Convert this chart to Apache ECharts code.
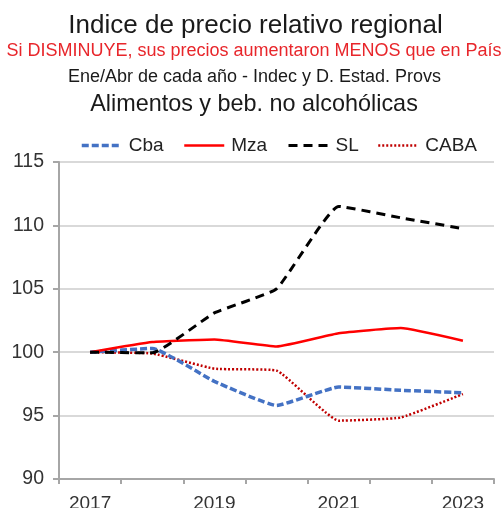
<!DOCTYPE html>
<html>
<head>
<meta charset="utf-8">
<script src="https://cdn.jsdelivr.net/npm/echarts@6/dist/echarts.min.js"></script>
<style>
html,body{margin:0;padding:0;background:#fff;}
#chart{width:503px;height:508px;}
</style>
</head>
<body>
<div id="chart"></div>
<script>
var years = ['2017','2018','2019','2020','2021','2022','2023'];
var cba  = [100, 100.3, 97.7, 95.8, 97.25, 97.0, 96.8];
var mza  = [100, 100.8, 101.0, 100.45, 101.5, 101.9, 100.9];
var sl   = [100, 99.95, 103.1, 105.0, 111.5, 110.6, 109.75];
var caba = [100, 99.9, 98.7, 98.55, 94.6, 94.85, 96.7];
var yTicks = [90, 95, 100, 105, 110, 115];

var FONT = 'Liberation Sans, Arial, sans-serif';
var chart = echarts.init(document.getElementById('chart'), null, {renderer:'canvas'});

function legendAt(name, left) {
  return {
    data: [name], left: left, top: 136, padding: 0,
    itemWidth: 40, itemHeight: 14, itemGap: 0,
    itemStyle: {opacity: 0},
    lineStyle: {width: 'inherit'},
    textStyle: {fontFamily: FONT, fontSize: 19, color: '#222', padding: [0,0,0,2]}
  };
}

chart.setOption({
  animation: false,
  backgroundColor: '#fff',
  graphic: [
    {type:'text', x:255.5, y:26, style:{text:'Indice de precio relativo regional', font:'26px ' + FONT, fill:'#1a1a1a', textAlign:'center', textVerticalAlign:'middle'}},
    {type:'text', x:254, y:51, style:{text:'Si DISMINUYE, sus precios aumentaron MENOS que en País', font:'18px ' + FONT, fill:'#e8262b', textAlign:'center', textVerticalAlign:'middle'}},
    {type:'text', x:254.5, y:77.5, style:{text:'Ene/Abr de cada año - Indec y D. Estad. Provs', font:'18px ' + FONT, fill:'#1a1a1a', textAlign:'center', textVerticalAlign:'middle'}},
    {type:'text', x:254, y:105, style:{text:'Alimentos y beb. no alcohólicas', font:'23.4px ' + FONT, fill:'#1a1a1a', textAlign:'center', textVerticalAlign:'middle'}}
  ],
  legend: [legendAt('Cba', 80), legendAt('Mza', 183), legendAt('SL', 287), legendAt('CABA', 377)],
  grid: {left: 59, right: 9, top: 162, bottom: 29, containLabel: false, outerBoundsMode: 'none'},
  xAxis: {
    type: 'category', data: years, boundaryGap: true,
    axisLine: {lineStyle: {color: '#a6a6a6', width: 2}},
    axisTick: {show: true, interval: 0, length: 5, lineStyle: {color: '#a6a6a6', width: 2}},
    axisLabel: {interval: 1, margin: 15, fontFamily: FONT, fontSize: 19, color: '#333'},
    splitLine: {show: false}
  },
  yAxis: {
    type: 'value', min: yTicks[0], max: yTicks[yTicks.length-1], interval: 5,
    axisLine: {show: true, lineStyle: {color: '#a6a6a6', width: 2}},
    axisTick: {show: true, length: 6, lineStyle: {color: '#a6a6a6', width: 2}},
    axisLabel: {margin: 15, fontFamily: FONT, fontSize: 19.5, color: '#333'},
    splitLine: {show: true, lineStyle: {color: '#d9d9d9', width: 2}}
  },
  series: [
    {name:'Cba', type:'line', data: cba, symbol:'none', z:3, smooth:0.12,
     lineStyle:{color:'#4472c4', width:3.5, type:[7,3]}, itemStyle:{color:'#4472c4'}},
    {name:'Mza', type:'line', data: mza, symbol:'none', z:4, smooth:0.12,
     lineStyle:{color:'#ff0000', width:2.5, type:'solid'}, itemStyle:{color:'#ff0000'}},
    {name:'SL', type:'line', data: sl, symbol:'none', z:5, smooth:0.12,
     lineStyle:{color:'#000000', width:3, type:[9,6]}, itemStyle:{color:'#000000'}},
    {name:'CABA', type:'line', data: caba, symbol:'none', z:2, smooth:0.12,
     lineStyle:{color:'#c00000', width:2.5, type:[2,2]}, itemStyle:{color:'#c00000'}}
  ]
});
</script>
</body>
</html>
